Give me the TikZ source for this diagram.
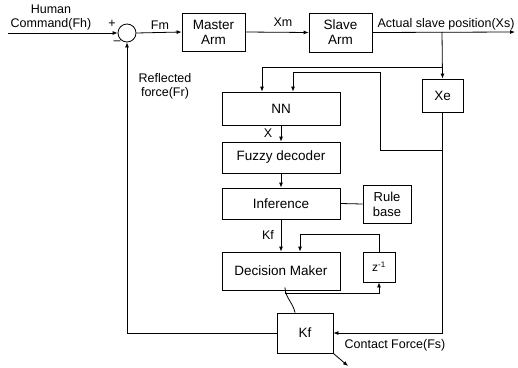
\documentclass[tikz,border=0pt]{standalone}
\usepackage{fontspec}
\setmainfont{Liberation Sans}
\usepackage{tikz}
\usetikzlibrary{arrows.meta,positioning}
\tikzset{
  blk/.style={draw,line width=0.8pt,inner sep=0pt,font=\fontsize{13.5}{15}\selectfont,align=center},
  sumc/.style={draw,circle,line width=0.8pt,minimum size=18pt,inner sep=0pt},
  arr/.style={-{Latex[length=5pt,width=4pt]},line width=0.8pt},
  ln/.style={line width=0.8pt},
  lbl/.style={font=\fontsize{12.5}{14}\selectfont,inner sep=0pt,align=center},
}

\begin{document}
\begin{tikzpicture}[x=1pt,y=-1pt]
  \useasboundingbox (0,0) rectangle (518,367);
  % forward path
  \node[sumc] (sum) at (127,33) {};
  \node[blk,minimum width=63pt,minimum height=38pt] (ma) at (213.5,32) {Master\\Arm};
  \node[blk,minimum width=63pt,minimum height=39pt] (sa) at (340.5,32.5) {Slave\\Arm};
  \node[blk,minimum width=41pt,minimum height=33pt] (xe) at (442.5,95.5) {Xe};
  % fuzzy-neural gain tuner
  \node[blk,minimum width=118pt,minimum height=33pt] (nn) at (281,108.5) {NN};
  \node[blk,minimum width=118pt,minimum height=31pt] (fd) at (281,157.5) {Fuzzy decoder};
  \node[blk,minimum width=118pt,minimum height=31pt] (inf) at (281,203.5) {Inference};
  \node[blk,minimum width=48pt,minimum height=38pt,font=\fontsize{13}{15}\selectfont] (rb) at (387,204) {Rule\\base};
  \node[blk,minimum width=118pt,minimum height=38pt] (dm) at (281,271) {Decision Maker};
  \node[blk,minimum width=32pt,minimum height=30pt,font=\fontsize{12}{14}\selectfont] (zi) at (379,267) {z\textsuperscript{-1}};
  \node[blk,minimum width=56pt,minimum height=40pt] (kf) at (305,333) {Kf};

  \coordinate (in) at (8,33);
  \coordinate (out) at (515,32);
  \coordinate (tap) at (442,32);
  \coordinate (fout) at (348,366);

  \draw[arr] (in) -- (sum.west);
  \draw[arr] (sum.east) -- (ma.west);
  \draw[arr] (ma.east) -- (sa.west);
  \draw[arr] (sa.east) -- (out);
  \draw[arr] (tap) -- (xe.north);
  \draw[arr] (tap |- 0,67) -| ([xshift=-19pt]nn.north);
  \draw[arr] (xe.south |- 0,150) -| (380,72) -| ([xshift=12pt]nn.north);
  \draw[arr] (xe.south) |- (kf.east);
  \foreach \a/\b in {nn/fd,fd/inf,inf/dm}
    \draw[arr] (\a.south) -- (\b.north);
  \draw[ln] (inf.east) -- (rb.west);
  \draw[arr] (zi.north) -- ++(0,-17) -| ([xshift=19pt]dm.north);
  \draw[arr] ([xshift=4pt]dm.south) -- ++(0,3) -| (zi.south);
  \draw[ln] ([xshift=4pt,yshift=3pt]dm.south) .. controls +(0,10) and +(-2,-10) .. ([xshift=-10pt]kf.north);
  \draw[arr] (kf.west) -| (sum.south);
  \draw[arr] (kf.south east) -- (fout);

  % labels
  \node[lbl] at (51,17) {Human\\Command(Fh)};
  \node[lbl] at (112,24) {+};
  \node[lbl] at (117,43) {--};
  \node[lbl] at (160,25) {Fm};
  \node[lbl] at (283,22) {Xm};
  \node[lbl] at (446,24) {Actual slave position(Xs)};
  \node[lbl] at (165,86) {Reflected\\force(Fr)};
  \node[lbl] at (268,133) {X};
  \node[lbl] at (268,235) {Kf};
  \node[lbl] at (395,345) {Contact Force(Fs)};
\end{tikzpicture}
\end{document}
